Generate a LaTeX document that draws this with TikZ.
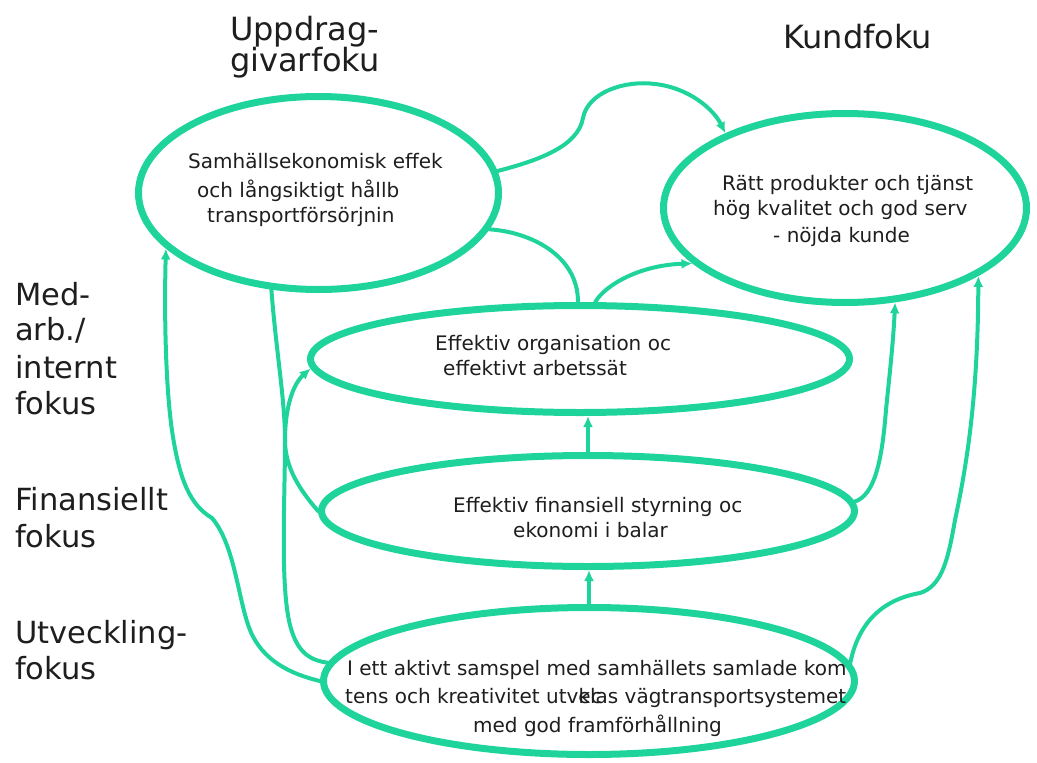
\documentclass[tikz,border=0pt]{standalone}
\usepackage{fontspec}
\setmainfont{DejaVu Sans}
\usetikzlibrary{arrows.meta,shapes.geometric}
\definecolor{mapgreen}{RGB}{30,212,155}
\definecolor{ink}{RGB}{30,30,30}
\tikzset{
  oval/.style={ellipse, draw=mapgreen, line width=7pt, inner sep=0pt},
  link/.style={draw=mapgreen, line width=4pt, line cap=round},
  arrowlink/.style={link, -{Latex[length=11pt,width=10pt]}},
  head/.style={anchor=base west, inner sep=0pt, text=ink, font=\fontsize{32}{38}\selectfont},
  side/.style={anchor=base west, inner sep=0pt, text=ink, font=\fontsize{30.5}{36}\selectfont},
  body/.style={anchor=base west, inner sep=0pt, text=ink, font=\fontsize{20}{24}\selectfont},
}
\begin{document}
\begin{tikzpicture}[x=1pt,y=-1pt]
\useasboundingbox (0,0) rectangle (1037,763);

% perspective headings
\node[head] (hUa) at (230,40) {Uppdrag-};
\node[head] (hUb) at (230,71) {givarfoku};
\node[head] (hK)  at (783,48) {Kundfoku};
\node[side] (hMa) at (15,305) {Med-};
\node[side] (hMb) at (15,340) {arb./};
\node[side] (hMc) at (15,378) {internt};
\node[side] (hMd) at (15,414) {fokus};
\node[side] (hFa) at (15,510) {Finansiellt};
\node[side] (hFb) at (15,547) {fokus};
\node[side] (hVa) at (15,643) {Utveckling-};
\node[side] (hVb) at (15,679) {fokus};

% goal ovals
\node[oval, minimum width=360pt, minimum height=193pt] (e1) at (318.5,193) {};
\node[oval, minimum width=363pt, minimum height=189pt] (e2) at (845,208) {};
\node[oval, minimum width=539pt, minimum height=107pt] (e3) at (580,359) {};
\node[oval, minimum width=533pt, minimum height=111pt] (e4) at (588,511) {};
\node[oval, minimum width=531pt, minimum height=147pt] (e5) at (589,681) {};

% goal texts
\node[body] (t1a) at (188,168) {Samhällsekonomisk effek};
\node[body] (t1b) at (197,197) {och långsiktigt hållb};
\node[body] (t1c) at (207,222) {transportförsörjnin};
\node[body] (t2a) at (722,190) {Rätt produkter och tjänst};
\node[body] (t2b) at (713,215) {hög kvalitet och god serv};
\node[body] (t2c) at (773,242) {- nöjda kunde};
\node[body] (t3a) at (435,350) {Effektiv organisation oc};
\node[body] (t3b) at (443,375) {effektivt arbetssät};
\node[body] (t4a) at (453,512) {Effektiv finansiell styrning oc};
\node[body] (t4b) at (513,537) {ekonomi i balar};
\node[body] (t5a) at (347,675) {I ett aktivt samspel med samhällets samlade kom};
\node[body] (t5b) at (345,703) {tens och kreativitet utv\rlap{ec}klas vägtransportsystemet};
\node[body] (t5c) at (473,732) {med god framförhållning};

% cause and effect links
\draw[arrowlink] (e1.7) .. controls (540,160) and (578,146) .. (583,118)
  .. controls (588,92) and (625,80) .. (655,84)
  .. controls (690,88) and (714,110) .. (e2.148);
\draw[link] (e1.-12) .. controls (530,232) and (578,255) .. (e3.92);
\draw[arrowlink] (e3.75) .. controls (605,285) and (640,265) .. (e2.200);
\draw[arrowlink] (e4.north) -- (e4.north |- e3.south);
\draw[arrowlink] (e5.north) -- (e5.north |- e4.south);
\draw[arrowlink] (e5.180) .. controls (290,674) and (262,660) .. (250,630)
  .. controls (238,600) and (235,545) .. (212,518)
  .. controls (190,505) and (180,480) .. (173,437)
  .. controls (166,395) and (164,320) .. (e1.200);
\draw[link] (e1.244) .. controls (276,350) and (285,400) .. (285,440)
  .. controls (285,500) and (280,585) .. (290,625)
  .. controls (296,648) and (306,660) .. (e5.176);
\draw[arrowlink] (e4.west) .. controls (300,490) and (285,468) .. (285,440)
  .. controls (285,410) and (292,385) .. (e3.182);
\draw[arrowlink] (e4.2) .. controls (875,495) and (882,460) .. (886,410)
  .. controls (890,370) and (893,345) .. (e2.-62);
\draw[arrowlink] (e5.4) .. controls (858,625) and (880,600) .. (920,593)
  .. controls (942,586) and (948,560) .. (955,520)
  .. controls (968,460) and (978,390) .. (e2.-27);
\end{tikzpicture}
\end{document}
